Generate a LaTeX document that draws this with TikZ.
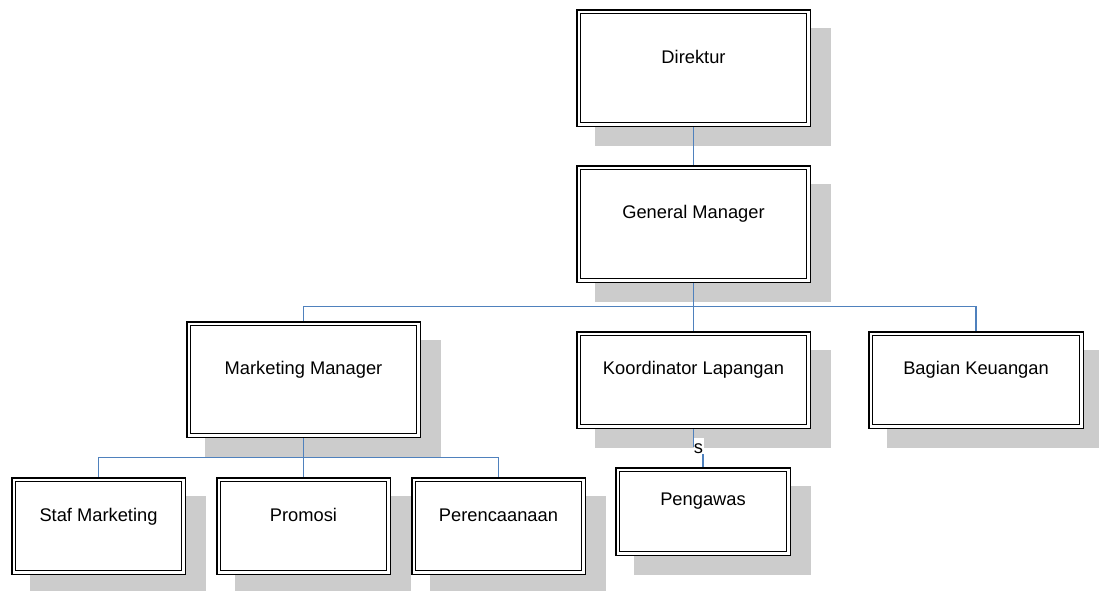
\documentclass[tikz,border=0pt]{standalone}
\usepackage{fontspec}
\setmainfont{Liberation Sans}
\usetikzlibrary{calc}

\definecolor{shadowgray}{RGB}{204,204,204}
\definecolor{linkblue}{RGB}{79,129,189}

\tikzset{
  unitbox/.style={draw=black, fill=white, rectangle, line width=1.5pt,
    double=white, double distance=2.3pt, inner sep=0pt, outer sep=2.65pt},
  unittext/.style={anchor=base, inner sep=0pt, font=\fontsize{18.3pt}{22pt}\selectfont},
  conn/.style={draw=linkblue, line width=1.8pt},
  joinlabel/.style={anchor=base, fill=white, inner sep=0pt, text height=16pt,
    text depth=0pt, minimum width=10pt, font=\fontsize{18.3pt}{22pt}\selectfont}
}

% name, left, top, right, bottom, text baseline, caption
\newcommand{\orgunit}[7]{%
  \fill[shadowgray] ({#2+19},{#3+19}) rectangle ({#4+20},{#5+19});
  \node[unitbox, minimum width={#4-#2-5.3}, minimum height={#5-#3-5.3}]
    (#1) at ({(#2+#4)/2},{(#3+#5)/2}) {};
  \node[unittext] (#1-cap) at ({(#2+#4)/2},#6) {#7};
}

\begin{document}
\begin{tikzpicture}[x=1pt, y=-1pt]
  \useasboundingbox (0,0) rectangle (1099,590);

  % units
  \orgunit{dir}{576}{9}{811}{127}{63.3}{Direktur}
  \orgunit{gm}{576}{165}{811}{283}{218}{General Manager}
  \orgunit{mm}{186}{321}{421}{438}{374}{Marketing Manager}
  \orgunit{kl}{576}{331}{811}{429}{374}{Koordinator Lapangan}
  \orgunit{bk}{868}{331}{1084}{429}{374}{Bagian Keuangan}
  \orgunit{staf}{11}{477}{186}{575}{521}{Staf Marketing}
  \orgunit{promo}{216}{477}{391}{575}{521}{Promosi}
  \orgunit{pere}{411}{477}{586}{575}{521}{Perencaanaan}
  \orgunit{peng}{615}{467}{791}{556}{505.7}{Pengawas}

  % bus levels
  \coordinate (gmbus) at (0,306.5);
  \coordinate (mmbus) at (0,457.5);
  \coordinate (klbend) at (0,446);

  % connectors
  \draw[conn] (dir.south) -- (gm.north);
  \draw[conn] (gm.south) -- (kl.north);
  \draw[conn] (gm.south |- gmbus) -| (mm.north);
  \draw[conn] (gm.south |- gmbus) -| (bk.north);
  \draw[conn] (mm.south) -- (promo.north);
  \draw[conn] (mm.south |- mmbus) -| (staf.north);
  \draw[conn] (mm.south |- mmbus) -| (pere.north);
  \draw[conn] (kl.south) -- (kl.south |- klbend) -| (peng.north);
  \node[joinlabel] (klsep) at (698.5,453.5) {s};
\end{tikzpicture}
\end{document}
